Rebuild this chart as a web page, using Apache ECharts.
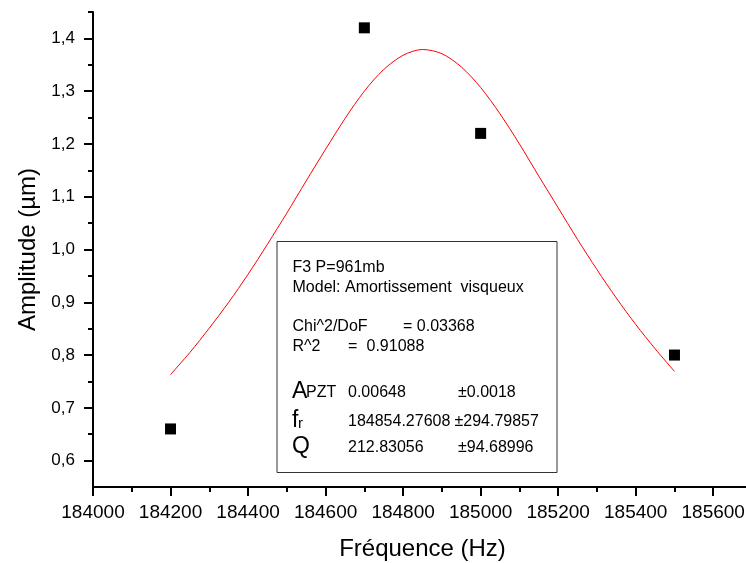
<!DOCTYPE html>
<html>
<head>
<meta charset="utf-8">
<script src="https://cdn.jsdelivr.net/npm/echarts@6/dist/echarts.min.js"></script>
<style>
html,body{margin:0;padding:0;background:#fff;}
#c{width:746px;height:563px;}
</style>
</head>
<body>
<div id="c"></div>
<script>
// Measured points
var freq = [184200, 184700, 185000, 185500];
var amp = [0.66, 1.42, 1.22, 0.80];

// Fitted curve
var fitFreq = [184200,184250,184300,184350,184400,184450,184500,184550,184600,184650,184700,184750,184800,184850,184900,184950,185000,185050,185100,185150,185200,185250,185300,185350,185400,185450,185500];
var fitAmp = [0.763,0.805,0.851,0.900,0.953,1.010,1.069,1.130,1.190,1.248,1.300,1.341,1.368,1.379,1.371,1.346,1.307,1.257,1.200,1.139,1.079,1.019,0.962,0.908,0.858,0.812,0.769];

// Axis ticks
var yMajor = [0.6,0.7,0.8,0.9,1.0,1.1,1.2,1.3,1.4];
var yMinor = [0.65,0.75,0.85,0.95,1.05,1.15,1.25,1.35,1.45];
var xLabels = [184000,184200,184400,184600,184800,185000,185200,185400,185600];

// Fit report text
var boxLines = ['F3 P=961mb', 'Model: Amortissement  visqueux'];
var chiText = ['Chi^2/DoF', '= 0.03368'];
var r2Text = ['R^2', '=', '0.91088'];
var params = [
  {big:'A', small:'PZT', val:'0.00648', err:'\u00b10.0018'},
  {big:'f', small:'r', val:'184854.27608', err:'\u00b1294.79857'},
  {big:'Q', small:'', val:'212.83056', err:'\u00b194.68996'}
];

var FONT = '"Liberation Sans", Arial, Helvetica, sans-serif';
var chart = echarts.init(document.getElementById('c'), null, {renderer:'canvas'});

function t(x, y, text, size, extra){
  var s = {text:text, x:x, y:y, fill:'#000', font: size + 'px ' + FONT, textVerticalAlign:'middle'};
  if (extra) for (var k in extra) s[k]=extra[k];
  return {type:'text', z:100, style:s};
}

var g = [];
g.push({type:'rect', z:99, shape:{x:277, y:241.5, width:280, height:231}, style:{fill:'#fff', stroke:'#333', lineWidth:1}});
g.push(t(292.5, 267.5, boxLines[0], 16));
g.push(t(292.5, 288, boxLines[1], 16));
g.push(t(292.5, 327, chiText[0], 16));
g.push(t(403, 327, chiText[1], 16));
g.push(t(292.5, 346.5, r2Text[0], 16));
g.push(t(348, 346.5, r2Text[1], 16));
g.push(t(366.5, 346.5, r2Text[2], 16));
var rowsY = [392, 420.5, 447];
var errX = [458, 454.5, 458];
params.forEach(function(p, i){
  g.push(t(292, rowsY[i], p.big, 23));
  if (p.small) {
    var sx = p.big === 'A' ? 306 : 298;
    var sy = p.big === 'A' ? rowsY[i] + 1 : rowsY[i] + 3;
    g.push(t(sx, sy, p.small, p.big === 'A' ? 16 : 15));
  }
  g.push(t(348, rowsY[i] + 1, p.val, 16));
  g.push(t(errX[i], rowsY[i] + 1, p.err, 16));
});

var option = {
  backgroundColor: '#fff',
  animation: false,
  grid: {left: 93, right: -6, top: 12, bottom: 76, containLabel: false, outerBoundsMode: 'none'},
  xAxis: {
    type: 'value', min: 184000, max: 185700, interval: 200,
    name: 'Fréquence (Hz)', nameLocation: 'middle', nameGap: 50,
    nameTextStyle: {fontFamily: FONT, fontSize: 24, color: '#000'},
    axisLine: {show: true, onZero: false, lineStyle: {color: '#000', width: 2}},
    axisTick: {show: true, inside: false, length: 9, lineStyle: {color: '#000', width: 2}},
    minorTick: {show: true, splitNumber: 2, length: 5, lineStyle: {color: '#000', width: 2}},
    axisLabel: {show: true, margin: 16, fontFamily: FONT, fontSize: 19, color: '#000',
      customValues: xLabels, formatter: function(v){ return String(v); }},
    splitLine: {show: false}, minorSplitLine: {show: false}
  },
  yAxis: [{
    type: 'value', min: 0.55, max: 1.45,
    name: 'Amplitude (\u00b5m)', nameLocation: 'middle', nameGap: 52,
    nameTextStyle: {fontFamily: FONT, fontSize: 24, color: '#000'},
    axisLine: {show: true, onZero: false, lineStyle: {color: '#000', width: 2}},
    axisTick: {show: true, inside: false, length: 9, customValues: yMajor, lineStyle: {color: '#000', width: 2}},
    axisLabel: {show: true, margin: 18, fontFamily: FONT, fontSize: 17, color: '#000',
      customValues: yMajor, formatter: function(v){ return v.toFixed(1).replace('.', ','); }},
    splitLine: {show: false}
  }, {
    type: 'value', min: 0.55, max: 1.45, position: 'left',
    axisLine: {show: false},
    axisTick: {show: true, inside: false, length: 5, customValues: yMinor, lineStyle: {color: '#000', width: 2}},
    axisLabel: {show: false},
    splitLine: {show: false}
  }],
  series: [{
    type: 'line', name: 'fit', yAxisIndex: 0,
    data: fitFreq.map(function(f, i){ return [f, fitAmp[i]]; }),
    smooth: 0.3, showSymbol: false, symbol: 'none',
    lineStyle: {color: '#ff0000', width: 1}, z: 2
  }, {
    type: 'scatter', name: 'data', yAxisIndex: 0,
    data: freq.map(function(f, i){ return [f, amp[i]]; }),
    symbol: 'rect', symbolSize: 11,
    itemStyle: {color: '#000', opacity: 1}, z: 3
  }],
  graphic: g
};
chart.setOption(option);
</script>
</body>
</html>
